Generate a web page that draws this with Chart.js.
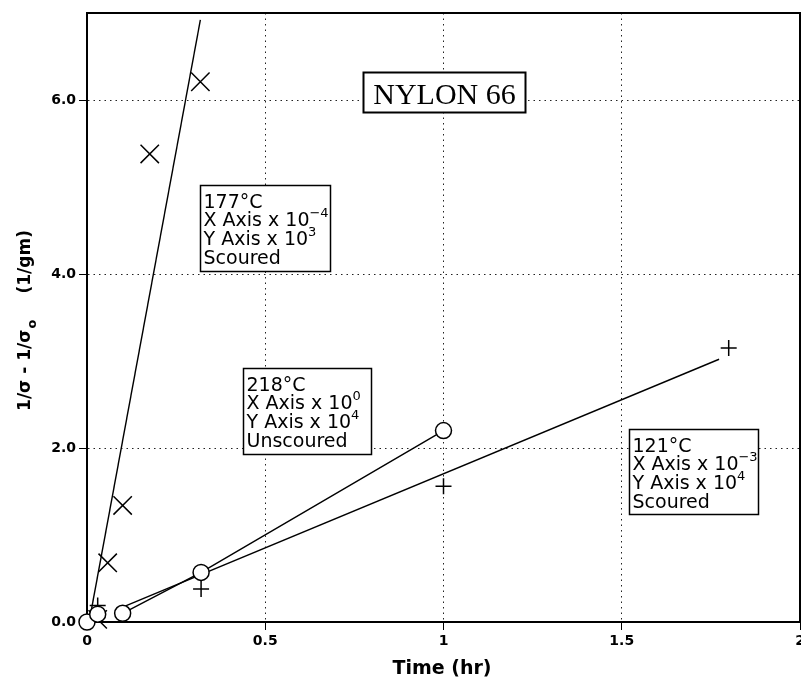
<!DOCTYPE html>
<html>
<head>
<meta charset="utf-8">
<script src="https://cdn.jsdelivr.net/npm/chart.js@4.4.0/dist/chart.umd.min.js"></script>
<style>
  html, body { margin: 0; padding: 0; background: #fff; }
</style>
</head>
<body>
<canvas id="chart" width="801" height="679"></canvas>
<script>
// axis ticks
const xTicks = [0, 0.5, 1, 1.5, 2]
const xTickLabels = ['0', '0.5', '1', '1.5', '2']
const yTicks = [0, 2, 4, 6]
const yTickLabels = ['0.0', '2.0', '4.0', '6.0']

// 177°C scoured (x marks) and its fitted line
const x177 = [0.03, 0.058, 0.10, 0.176, 0.318]
const y177 = [0.03, 0.68, 1.34, 5.38, 6.21]
const fit177X = [0.006, 0.318]
const fit177Y = [0, 6.92]

// 218°C unscoured (open circles), joined from 0.1 on
const x218 = [0, 0.03, 0.10, 0.32, 1.0]
const y218 = [0, 0.09, 0.10, 0.57, 2.2]
const line218X = [0.10, 0.32, 1.0]
const line218Y = [0.10, 0.57, 2.2]

// 121°C scoured (plus marks) and its fitted line
const x121 = [0.03, 0.32, 1.0, 1.8]
const y121 = [0.19, 0.38, 1.56, 3.15]
const fit121X = [0.10, 1.773]
const fit121Y = [0.17, 3.02]

const pts = (xs, ys) => xs.map((x, i) => ({ x, y: ys[i] }))

// text boxes, anchored at their top-left corner in data units
const notes = [
  { x: 0.317, y: 5.02, w: 130, h: 86, lines: [['177°C'], ['X Axis x 10', '−4'], ['Y Axis x 10', '3'], ['Scoured']] },
  { x: 0.438, y: 2.92, w: 128, h: 86, lines: [['218°C'], ['X Axis x 10', '0'], ['Y Axis x 10', '4'], ['Unscoured']] },
  { x: 1.52, y: 2.22, w: 129, h: 85, lines: [['121°C'], ['X Axis x 10', '−3'], ['Y Axis x 10', '4'], ['Scoured']] }
]

const SANS = '"DejaVu Sans", sans-serif'

const decorations = {
  id: 'decorations',
  afterDatasetsDraw(chart) {
    const { ctx, chartArea: a, scales: { x, y } } = chart
    ctx.save()

    // top and right frame
    ctx.strokeStyle = '#000'
    ctx.lineWidth = 2
    ctx.beginPath()
    ctx.moveTo(a.left, a.top)
    ctx.lineTo(a.right, a.top)
    ctx.lineTo(a.right, a.bottom)
    ctx.stroke()

    // legend-like boxes
    notes.forEach(n => {
      const left = Math.round(x.getPixelForValue(n.x)) + 0.5
      const top = Math.round(y.getPixelForValue(n.y)) + 0.5
      ctx.fillStyle = '#fff'
      ctx.fillRect(left, top, n.w, n.h)
      ctx.lineWidth = 1.5
      ctx.strokeRect(left, top, n.w, n.h)
      ctx.fillStyle = '#000'
      ctx.textBaseline = 'alphabetic'
      ctx.textAlign = 'left'
      n.lines.forEach((ln, i) => {
        const by = top + 22 + i * 18.7
        ctx.font = '19px ' + SANS
        ctx.fillText(ln[0], left + 3, by)
        if (ln[1]) {
          const w = ctx.measureText(ln[0]).width
          ctx.font = '13px ' + SANS
          ctx.fillText(ln[1], left + 3 + w, by - 9)
        }
      })
    })

    // NYLON 66 title box
    const nl = Math.round(x.getPixelForValue(0.774)) + 0.5
    const nt = Math.round(y.getPixelForValue(6.32)) + 0.5
    ctx.fillStyle = '#fff'
    ctx.fillRect(nl, nt, 162, 40)
    ctx.lineWidth = 2
    ctx.strokeRect(nl, nt, 162, 40)
    ctx.fillStyle = '#000'
    ctx.font = '30px "Liberation Serif", serif'
    ctx.textAlign = 'center'
    ctx.fillText('NYLON 66', nl + 81, nt + 31)

    // axis titles
    ctx.font = 'bold 19px ' + SANS
    ctx.textAlign = 'center'
    ctx.fillText('Time (hr)', 442, 674)

    ctx.translate(30, 321)
    ctx.rotate(-Math.PI / 2)
    ctx.font = 'bold 17px ' + SANS
    const p1 = '1/σ - 1/σ'
    const p3 = '(1/gm)'
    const w1 = ctx.measureText(p1).width
    const w3 = ctx.measureText(p3).width
    ctx.font = 'bold 13px ' + SANS
    const w2 = ctx.measureText('o').width
    const gap = 26
    const total = w1 + w2 + gap + w3
    let cx = -total / 2
    ctx.textAlign = 'left'
    ctx.font = 'bold 17px ' + SANS
    ctx.fillText(p1, cx, 0)
    cx += w1 + 1
    ctx.font = 'bold 13px ' + SANS
    ctx.fillText('o', cx, 6)
    cx += w2 + gap
    ctx.font = 'bold 17px ' + SANS
    ctx.fillText(p3, cx, 0)

    ctx.restore()
  }
}

const lineStyle = { showLine: true, pointRadius: 0, borderColor: '#000', borderWidth: 1.4, fill: false }

new Chart(document.getElementById('chart'), {
  type: 'scatter',
  data: {
    datasets: [
      { data: pts(x218, y218), pointStyle: 'circle', pointRadius: 8, pointBackgroundColor: '#fff', pointBorderColor: '#000', pointBorderWidth: 1.5, clip: false },
      { data: pts(x121, y121), pointStyle: 'cross', pointRadius: 8, pointBorderColor: '#000', pointBorderWidth: 1.5, clip: false },
      { data: pts(x177, y177), pointStyle: 'crossRot', pointRadius: 13, pointBorderColor: '#000', pointBorderWidth: 1.5, clip: false },
      { data: pts(fit177X, fit177Y), ...lineStyle },
      { data: pts(line218X, line218Y), ...lineStyle },
      { data: pts(fit121X, fit121Y), ...lineStyle }
    ]
  },
  options: {
    responsive: false,
    animation: false,
    events: [],
    layout: { autoPadding: false, padding: { top: 13, right: 1, left: 0, bottom: 0 } },
    plugins: { legend: { display: false }, tooltip: { enabled: false } },
    scales: {
      x: {
        type: 'linear',
        min: 0,
        max: 2,
        afterBuildTicks: s => { s.ticks = xTicks.map(v => ({ value: v })) },
        afterFit: s => {
          s.height = 57
          // let the last label hang off the edge, as in the original
          s.paddingLeft = 0
          s.paddingRight = 0
        },
        ticks: {
          callback: v => xTickLabels[xTicks.indexOf(v)],
          font: { family: SANS, size: 14, weight: 'bold' },
          color: '#000',
          padding: 3,
          maxRotation: 0,
          autoSkip: false
        },
        grid: { color: '#222', lineWidth: 1, tickLength: 8, tickColor: '#000' },
        border: { color: '#000', width: 2, dash: [1.5, 4] }
      },
      y: {
        type: 'linear',
        min: 0,
        max: 7,
        afterBuildTicks: s => { s.ticks = yTicks.map(v => ({ value: v })) },
        afterFit: s => {
          s.width = 87
          s.paddingTop = 0
          s.paddingBottom = 0
        },
        ticks: {
          callback: v => yTickLabels[yTicks.indexOf(v)],
          font: { family: SANS, size: 14, weight: 'bold' },
          color: '#000',
          padding: 3
        },
        grid: { color: '#222', lineWidth: 1, tickLength: 8, tickColor: '#000' },
        border: { color: '#000', width: 2, dash: [1.5, 4] }
      }
    }
  },
  plugins: [decorations]
})
</script>
</body>
</html>
